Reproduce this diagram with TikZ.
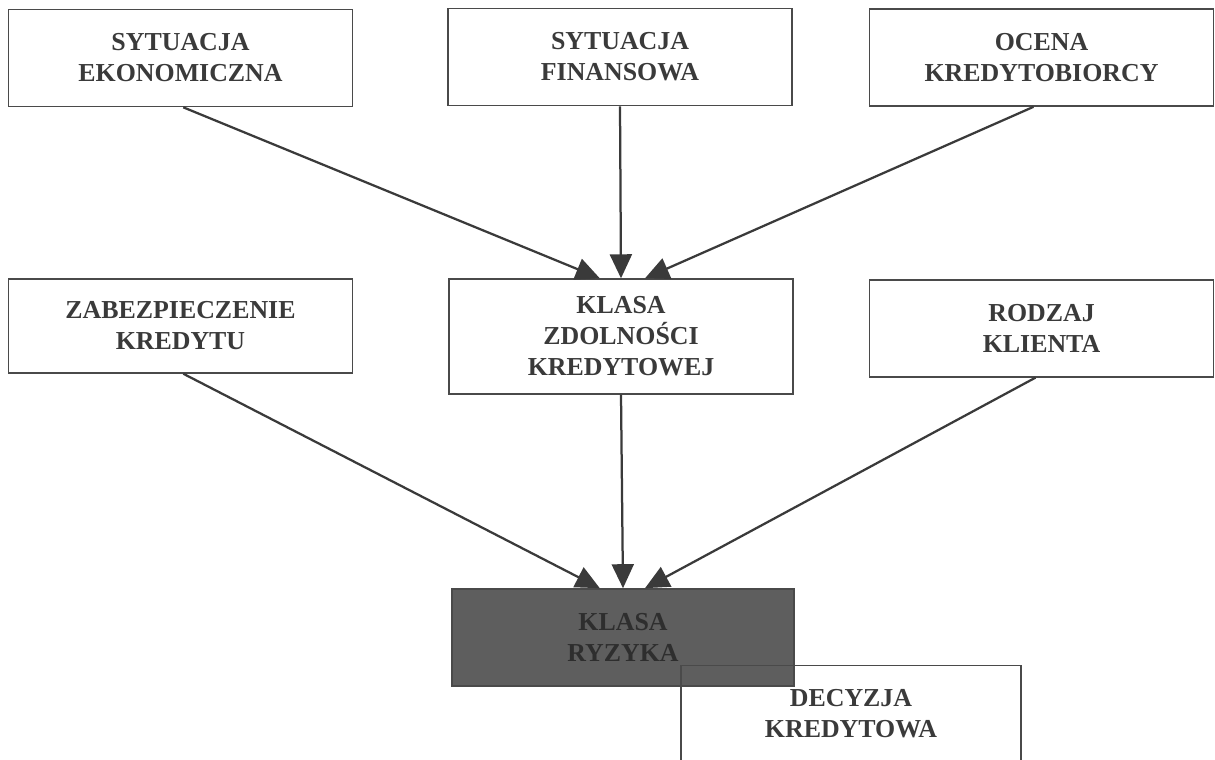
\documentclass[tikz,border=0pt]{standalone}
\usepackage{fontspec}
\setmainfont{Liberation Serif}
\usetikzlibrary{arrows.meta}
\definecolor{ink}{HTML}{3A3A3A}
\definecolor{frame}{HTML}{4A4A4A}
\definecolor{riskfill}{HTML}{5E5E5E}
\tikzset{
    box/.style = {
    	draw=frame,
    	line width=1pt,
    	align=center,
    	text=ink,
    	font=\fontsize{18.4}{22}\selectfont\bfseries,
    	minimum width=8.6cm,
    	minimum height=2.43cm
    },
    riskbox/.style = {
    	box,
    	fill=riskfill,
    	text=ink!80!black
    },
    influence/.style = {
    	draw=ink,
    	line width=1.6pt,
    	-{Triangle[length=0.6cm,width=0.55cm]}
    }
}
\begin{document}
\begin{tikzpicture}[x=0.025cm,y=-0.025cm]

	% Marco
	\clip (0,0) rectangle (1215,759);
	\useasboundingbox (0,0) rectangle (1215,759);

	% Factores
	\node[box] (eko) at (180.5,58) {SYTUACJA\\EKONOMICZNA};
	\node[box] (fin) at (620,57) {SYTUACJA\\FINANSOWA};
	\node[box] (ocena) at (1041.5,57.5) {OCENA\\KREDYTOBIORCY};

	\node[box, minimum height=2.35cm] (zab) at (180.5,326) {ZABEZPIECZENIE\\KREDYTU};
	\node[box, minimum height=2.875cm] (zdol) at (621,336.5) {KLASA\\ZDOLNO\'SCI\\KREDYTOWEJ};
	\node[box, minimum height=2.42cm] (rodz) at (1041.5,328.5) {RODZAJ\\KLIENTA};

	% Wynik
	\node[riskbox, minimum width=8.55cm] (ryz) at (623,637.5) {KLASA\\RYZYKA};
	\node[box, minimum width=8.5cm] (dec) at (851,714) {DECYZJA\\KREDYTOWA};

	% Strzalki
	\draw[influence] ([xshift=0.07cm]eko.south) -- ([xshift=-0.53cm]zdol.north);
	\draw[influence] (fin.south) -- (zdol.north);
	\draw[influence] ([xshift=-0.2cm]ocena.south) -- ([xshift=0.6cm]zdol.north);

	\draw[influence] ([xshift=0.07cm]zab.south) -- ([xshift=-0.58cm]ryz.north);
	\draw[influence] (zdol.south) -- (ryz.north);
	\draw[influence] ([xshift=-0.15cm]rodz.south) -- ([xshift=0.55cm]ryz.north);

\end{tikzpicture}
\end{document}
